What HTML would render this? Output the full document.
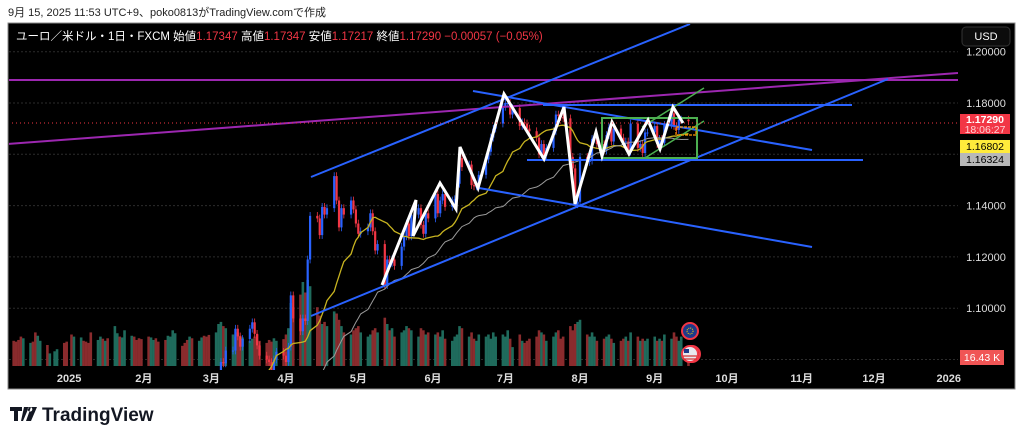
<!DOCTYPE html>
<html><head><meta charset="utf-8">
<style>
html,body{margin:0;padding:0;background:#fff;width:1024px;height:441px;overflow:hidden;font-family:"Liberation Sans","Noto Sans CJK JP",sans-serif;}
svg{display:block;position:absolute;left:0;top:0}
</style></head>
<body>
<svg id="chart" width="1024" height="441" viewBox="0 0 1024 441">
<defs><clipPath id="plotclip"><rect x="9" y="24" width="949" height="346"/></clipPath></defs>
<text x="8" y="16" font-size="11" fill="#222">9月 15, 2025 11:53 UTC+9、poko0813がTradingView.comで作成</text>
<rect x="8" y="23" width="1007" height="366" fill="#000" stroke="#8a8a8a" stroke-width="1"/>
<g id="grid"></g>
<g clip-path="url(#plotclip)">
<g id="vol"></g>
<g id="candles"></g>
<g id="mas"></g>
<g id="drawings">
<line x1="8" y1="80" x2="958" y2="80" stroke="#9c27b0" stroke-width="2"/>
<line x1="8" y1="144" x2="958" y2="73" stroke="#9c27b0" stroke-width="2"/>
<line x1="311" y1="177" x2="690" y2="24" stroke="#2962ff" stroke-width="2"/>
<line x1="311" y1="316" x2="888" y2="79" stroke="#2962ff" stroke-width="2"/>
<line x1="473" y1="91" x2="812" y2="150" stroke="#2962ff" stroke-width="2"/>
<line x1="479" y1="188" x2="812" y2="247" stroke="#2962ff" stroke-width="2"/>
<line x1="543" y1="105" x2="852" y2="105" stroke="#2962ff" stroke-width="2"/>
<line x1="527" y1="160" x2="863" y2="160" stroke="#2962ff" stroke-width="2"/>
<rect x="602" y="118" width="95" height="40" fill="none" stroke="#4caf50" stroke-width="2"/>
<line x1="642" y1="127" x2="704" y2="88" stroke="#4caf50" stroke-width="1.5"/>
<line x1="645" y1="158" x2="704" y2="121" stroke="#4caf50" stroke-width="1.5"/>
<rect x="676" y="127" width="20" height="8" fill="none" stroke="#ff9800" stroke-width="1.2" stroke-dasharray="3,1"/>
<polyline points="382,285 416,200 413,236 440,183 456,209 460,147 478,188 504,94 544,159 564,107 575,204 596,132 602,156 612,122 629,154 648,120 660,149 673,107 683,123" fill="none" stroke="#fff" stroke-width="3" stroke-linejoin="miter"/>
</g>
<line x1="8" y1="123" x2="958" y2="123" stroke="#f23645" stroke-width="1" stroke-dasharray="1,3"/>
</g>
<g>
<circle cx="690" cy="331" r="8" fill="#1e3a8a" stroke="#f23645" stroke-width="2"/>
<circle cx="690" cy="331" r="3" fill="none" stroke="#ffd600" stroke-width="1" stroke-dasharray="1,1"/>
<circle cx="692" cy="354" r="8" fill="none" stroke="#f23645" stroke-width="2"/>
<circle cx="690" cy="354" r="8" fill="#e8e8ee" stroke="#f23645" stroke-width="2"/>
<rect x="684" y="349" width="5" height="4" fill="#1e3a8a"/>
<line x1="683" y1="356" x2="697" y2="356" stroke="#d32f2f" stroke-width="1.2"/>
<line x1="683" y1="359" x2="697" y2="359" stroke="#d32f2f" stroke-width="1.2"/>
</g>
<g id="yaxis"></g>
<g id="xaxis"></g>
<text x="16" y="40" font-size="11.5" fill="#fff">ユーロ／米ドル・1日・FXCM <tspan>始値</tspan><tspan fill="#f23645">1.17347</tspan> <tspan>高値</tspan><tspan fill="#f23645">1.17347</tspan> <tspan>安値</tspan><tspan fill="#f23645">1.17217</tspan> <tspan>終値</tspan><tspan fill="#f23645">1.17290 −0.00057 (−0.05%)</tspan></text>
<rect x="962" y="27" width="48" height="19" rx="4" fill="#0c0c0c" stroke="#333"/>
<text x="986" y="40" font-size="11" fill="#fff" text-anchor="middle">USD</text>
<rect x="960" y="114" width="50" height="20" fill="#f23645"/>
<text x="985" y="123" font-size="10.5" fill="#fff" text-anchor="middle" font-weight="bold">1.17290</text>
<text x="985" y="133" font-size="10.5" fill="#ffd0d4" text-anchor="middle">18:06:27</text>
<rect x="960" y="140" width="50" height="13" fill="#ffeb3b"/>
<text x="985" y="150" font-size="10.5" fill="#000" text-anchor="middle">1.16802</text>
<rect x="960" y="153" width="50" height="13" fill="#b8b8b8"/>
<text x="985" y="163" font-size="10.5" fill="#000" text-anchor="middle">1.16324</text>
<rect x="960" y="350" width="44" height="15" fill="#f05555"/>
<text x="982" y="361" font-size="10.5" fill="#fff" text-anchor="middle">16.43 K</text>
<g>
<path d="M10 407h12v4h-4v10h-4v-10h-4z M24 407h5l-6 14h-2z M30 407a2.3 2.3 0 1 0 0.01 0z M31 407h6l-6 14h-5z" fill="#131722"/>
<text x="42" y="421" font-size="19" font-weight="bold" fill="#131722">TradingView</text>
</g>
</svg>
<script>
// ---- data ----
const startDate = "2024-12-06";
const holidays = ["2024-12-25","2025-01-01"];
const closes = [
1.0565,1.0555,1.0530,1.0500,1.0470,1.0500,1.0510,1.0490,1.0350,1.0365,1.0430,1.0405,1.0405,1.0420,1.0425,1.0405,1.0355,
1.0265,1.0310,1.0390,1.0345,1.0315,1.0300,1.0245,1.0245,1.0310,1.0290,1.0300,1.0270,1.0415,1.0430,1.0410,1.0415,1.0495,1.0495,1.0430,1.0425,1.0390,1.0360,
1.0345,1.0380,1.0400,1.0380,1.0330,1.0305,1.0360,1.0385,1.0465,1.0490,1.0485,1.0455,1.0420,1.0505,1.0460,1.0465,1.0515,1.0485,1.0400,1.0375,
1.0485,1.0625,1.0790,1.0785,1.0835,1.0835,1.0920,1.0890,1.0850,1.0880,1.0920,1.0945,1.0900,1.0855,1.0815,1.0800,1.0790,1.0755,1.0800,1.0830,1.0815,
1.0790,1.0850,1.1050,1.0960,1.0910,1.0960,1.0950,1.1190,1.1360,1.1350,1.1285,1.1395,1.1365,1.1390,1.1515,1.1420,1.1315,1.1390,1.1365,1.1420,1.1385,1.1330,
1.1290,1.1300,1.1315,1.1370,1.1300,1.1225,1.1250,1.1090,1.1190,1.1175,1.1190,1.1165,1.1240,1.1280,1.1330,1.1280,1.1365,1.1390,1.1325,1.1290,1.1370,1.1350,
1.1445,1.1370,1.1420,1.1445,1.1395,1.1420,1.1425,1.1485,1.1585,1.1550,1.1560,1.1480,1.1475,1.1475,1.1520,1.1580,1.1610,1.1665,1.1700,1.1720,1.1785,
1.1800,1.1800,1.1755,1.1780,1.1710,1.1725,1.1720,1.1700,1.1690,1.1665,1.1600,1.1640,1.1595,1.1625,1.1690,1.1755,1.1750,1.1745,1.1740,1.1590,1.1545,1.1405,1.1415,
1.1590,1.1570,1.1575,1.1660,1.1665,1.1640,1.1615,1.1675,1.1705,1.1650,1.1700,1.1665,1.1650,1.1650,1.1610,1.1720,1.1625,1.1640,1.1605,1.1685,1.1685,
1.1710,1.1640,1.1660,1.1645,1.1715,1.1760,1.1710,1.1695,1.1735,1.1735,1.1729
];
const volumes = [
55,60,58,62,70,66,55,58,80,72,60,50,30,35,40,55,58,
75,70,68,60,58,55,80,62,70,65,60,66,95,78,70,68,85,72,70,62,66,64,
70,68,62,66,58,62,72,70,85,78,48,55,62,70,66,60,68,72,70,74,
80,100,105,95,90,75,70,80,72,68,60,65,70,75,60,55,62,58,66,60,64,
75,90,150,140,170,200,175,205,190,140,120,100,105,95,130,125,110,95,80,75,85,90,
95,80,70,75,85,90,80,115,100,85,90,70,80,85,95,90,85,70,90,85,75,80,
75,80,70,85,65,60,70,75,95,90,70,80,65,60,75,70,75,65,80,70,75,
70,85,65,45,75,60,55,60,65,70,85,80,75,60,70,80,85,65,70,95,85,100,105,
110,75,70,80,70,60,65,70,75,65,55,60,65,70,60,80,70,60,65,60,65,
70,60,65,60,75,65,80,70,60,70,16.43
];
const priceTicks = ["1.20000","1.18000","1.16000","1.14000","1.12000","1.10000","1.08000"];
const shownPriceTicks = ["1.20000","1.18000","1.14000","1.12000","1.10000"];
const timeTicks = ["2025-01-01","2025-02-01","2025-03-01","2025-04-01","2025-05-01","2025-06-01","2025-07-01","2025-08-01","2025-09-01","2025-10-01","2025-11-01","2025-12-01","2026-01-01"];
const timeLabels = ["2025","2月","3月","4月","5月","6月","7月","8月","9月","10月","11月","12月","2026"];

const NS="http://www.w3.org/2000/svg";
const DAY=86400000, APR1=Date.UTC(2025,3,1);
const PLOT_BOTTOM=370;
function xOf(ms){return 286+(ms-APR1)/DAY*2.41;}
function yOf(p){return 103+(1.18-p)/0.02*51.3;}
function vOf(v){return 366-v*0.42;}
function el(tag,attrs,parent){const e=document.createElementNS(NS,tag);for(const k in attrs)e.setAttribute(k,attrs[k]);parent.appendChild(e);return e;}
function parse(s){const a=s.split("-");return Date.UTC(+a[0],+a[1]-1,+a[2]);}

const dates=[];
let t=parse(startDate);
while(dates.length<closes.length){
  const d=new Date(t);const wd=d.getUTCDay();
  const iso=d.toISOString().slice(0,10);
  if(wd!==0&&wd!==6&&holidays.indexOf(iso)<0)dates.push(t);
  t+=DAY;
}

const grid=document.getElementById("grid"), yaxis=document.getElementById("yaxis");
priceTicks.forEach(p=>{
  const y=yOf(+p);
  const g=el("line",{x1:9,x2:958,y1:y,y2:y,stroke:"#2c2c2c","stroke-width":1,"stroke-dasharray":"2,2"},grid);
  
  
});
shownPriceTicks.forEach(p=>{
  const tx=el("text",{x:986,y:yOf(+p)+4,"font-size":11,fill:"#ddd","text-anchor":"middle"},yaxis);
  tx.textContent=p;
  
  
});
const xaxis=document.getElementById("xaxis");
timeTicks.forEach((d,i)=>{
  const tx=el("text",{x:xOf(parse(d)),y:382,"font-size":11,"font-weight":"bold",fill:"#ddd","text-anchor":"middle"},xaxis);
  tx.textContent=timeLabels[i];
  
  
});

const vol=document.getElementById("vol"), cg=document.getElementById("candles");
for(let i=0;i<closes.length;i++){
  const x=xOf(dates[i]);
  const o=i>0?closes[i-1]:closes[i];
  const c=closes[i];
  const up=c>=o;
  const vb=el("rect",{x:x-1.3,y:vOf(volumes[i]),width:2.6,height:366-vOf(volumes[i]),fill:up?"#1f6b5c":"#8a2b2d"},vol);
  
  
  const hi=Math.max(o,c)+0.0015, lo=Math.min(o,c)-0.0015;
  if(yOf(hi)>PLOT_BOTTOM) continue;
  const col=up?"#2962ff":"#f23645";
  const w=el("line",{x1:x,x2:x,y1:yOf(hi),y2:Math.min(PLOT_BOTTOM,yOf(lo)),stroke:col,"stroke-width":0.8},cg);
  
  
  const top=yOf(Math.max(o,c));
  const h=Math.min(PLOT_BOTTOM-top,Math.max(1,Math.abs(yOf(o)-yOf(c))));
  const b=el("rect",{x:x-1.1,y:top,width:2.2,height:h,fill:col},cg);
  
  
}

const mas=document.getElementById("mas");
function sma(n,color,name,sw){
  let pts=[];
  for(let i=n-1;i<closes.length;i++){
    let s=0;for(let k=i-n+1;k<=i;k++)s+=closes[k];
    const y=yOf(s/n);
    if(y>PLOT_BOTTOM+5){pts=[];continue;}
    pts.push(xOf(dates[i]).toFixed(1)+","+y.toFixed(1));
  }
  const pl=el("polyline",{points:pts.join(" "),fill:"none",stroke:color,"stroke-width":sw},mas);
  
  
}
sma(20,"#c8b420","sma-20-line",1.3);
sma(50,"#9a9a9a","sma-50-line",1);
</script>
</body></html>
